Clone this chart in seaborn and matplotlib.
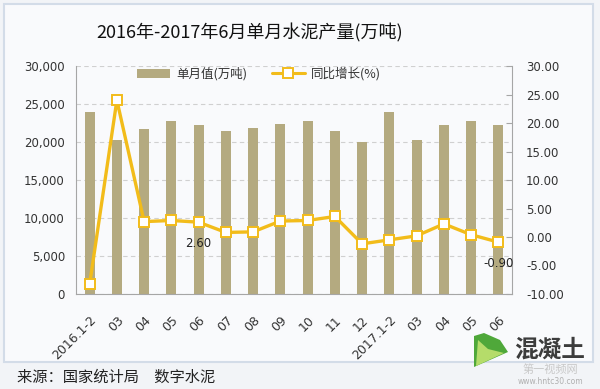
import numpy as np
import pandas as pd
import matplotlib
matplotlib.use("Agg")
import matplotlib.pyplot as plt
import seaborn as sns
from matplotlib.patches import Rectangle, Polygon
from matplotlib.lines import Line2D
from matplotlib.ticker import FuncFormatter, MultipleLocator

# ---- data ----
categories = ["2016.1-2", "03", "04", "05", "06", "07", "08", "09", "10", "11", "12",
              "2017.1-2", "03", "04", "05", "06"]
monthly_output = [24000, 20300, 21700, 22700, 22300, 21400, 21800, 22400, 22800, 21400,
                  20000, 24000, 20200, 22200, 22800, 22200]
yoy_growth = [-8.3, 24.0, 2.7, 2.9, 2.6, 0.8, 0.9, 2.8, 2.9, 3.6,
              -1.2, -0.5, 0.2, 2.3, 0.4, -0.9]
labelled_points = {4: "2.60", 15: "-0.90"}

title = "2016年-2017年6月单月水泥产量(万吨)"
bar_label = "单月值(万吨)"
line_label = "同比增长(%)"
source = "来源：国家统计局　数字水泥"

BAR_C = "#B4AA80"
LINE_C = "#F2BC1A"

df = pd.DataFrame({"pos": np.arange(len(categories)),
                   "output": monthly_output,
                   "growth": yoy_growth})

sns.set_style("white")
plt.rcParams["font.family"] = ["Noto Sans CJK SC", "DejaVu Sans"]
plt.rcParams["axes.grid"] = False

fig = plt.figure(figsize=(6.0, 3.89), dpi=100)
fig.patch.set_facecolor("#F2F4F7")

# outer frame
frame = Rectangle((4 / 600, 1 - 362 / 389), 589 / 600, 358 / 389,
                  transform=fig.transFigure, facecolor="#F9FAFC",
                  edgecolor="#D3DCE8", linewidth=1.5, zorder=-5)
fig.patches.append(frame)

ax = fig.add_axes([76 / 600, 1 - 294 / 389, 436 / 600, 228 / 389])
ax.set_facecolor("none")
ax.set_zorder(1)

sns.barplot(data=df, x="pos", y="output", color=BAR_C, width=0.37,
            saturation=1, ax=ax, zorder=2, edgecolor="none", linewidth=0)

ax.set_ylim(0, 30000)
ax.yaxis.set_major_locator(MultipleLocator(5000))
ax.yaxis.set_major_formatter(FuncFormatter(lambda v, p: f"{int(v):,}"))
ax.set_xlim(-0.5, len(categories) - 0.5)
ax.set_xlabel("")
ax.set_ylabel("")

ax.set_xticks(np.arange(len(categories)))
ax.set_xticklabels(categories, rotation=45, ha="right", rotation_mode="anchor",
                   fontsize=9, color="#333333", family="DejaVu Sans")
ax.set_xticks(np.arange(len(categories) + 1) - 0.5, minor=True)
ax.tick_params(axis="x", which="major", length=0, pad=14)
ax.tick_params(axis="x", which="minor", length=4, color="#A6A6A6", width=0.8,
               direction="out")
ax.tick_params(axis="y", length=0, labelsize=8.5, labelcolor="#333333", pad=8)
for lab in ax.get_yticklabels():
    lab.set_family("DejaVu Sans")

ax.xaxis.grid(False, which="both")
ax.yaxis.grid(True, which="major", color="#D0D0D0", linestyle=(0, (4, 3)),
              linewidth=0.8)
ax.set_axisbelow(True)

for s in ["top", "right"]:
    ax.spines[s].set_visible(False)
for s in ["left", "bottom"]:
    ax.spines[s].set_color("#A6A6A6")
    ax.spines[s].set_linewidth(0.8)

ax2 = ax.twinx()
ax2.set_zorder(2)
ax2.set_facecolor("none")
sns.lineplot(data=df, x="pos", y="growth", color=LINE_C, linewidth=2.4,
             marker="s", markersize=7, markerfacecolor="white",
             markeredgecolor=LINE_C, markeredgewidth=1.4, ax=ax2, zorder=5)
ax2.set_ylim(-10, 30)
ax2.yaxis.set_major_locator(MultipleLocator(5))
ax2.yaxis.set_major_formatter(FuncFormatter(lambda v, p: f"{v:.2f}"))
ax2.set_ylabel("")
ax2.set_xlabel("")
ax2.grid(False, which="both")
ax2.tick_params(axis="y", direction="in", length=4, color="#A6A6A6",
                labelsize=8.5, labelcolor="#333333", pad=10)
for lab in ax2.get_yticklabels():
    lab.set_family("DejaVu Sans")
for s in ["top", "left", "bottom"]:
    ax2.spines[s].set_visible(False)
ax2.spines["right"].set_color("#A6A6A6")
ax2.spines["right"].set_linewidth(0.8)
ax2.set_xlim(-0.5, len(categories) - 0.5)

for i, txt in labelled_points.items():
    ax2.annotate(txt, (df["pos"][i], df["growth"][i]), xytext=(0, -21),
                 textcoords="offset pixels", ha="center", va="center",
                 fontsize=8.5, color="#222222", family="DejaVu Sans")

handles = [Rectangle((0, 0), 1, 1, facecolor=BAR_C, edgecolor="none"),
           Line2D([0], [0], color=LINE_C, linewidth=2.2, marker="s", markersize=7,
                  markerfacecolor="white", markeredgecolor=LINE_C,
                  markeredgewidth=1.4)]
ax2.legend(handles, [bar_label, line_label], loc="center",
           bbox_to_anchor=(0.42, 0.965), ncol=2, frameon=False, fontsize=9,
           handlelength=2.6, handleheight=0.8, columnspacing=2.0,
           handletextpad=0.5, labelcolor="#333333")

fig.text(250 / 600, 1 - 33 / 389, title, ha="center", va="center",
         fontsize=13, color="#111111")
fig.text(17 / 600, 1 - 377 / 389, source, ha="left", va="center",
         fontsize=11, color="#222222")

# logo (decorative)
fig.patches.append(Polygon([(474 / 600, 1 - 367 / 389), (508 / 600, 1 - 352 / 389),
                            (500 / 600, 1 - 340 / 389), (484 / 600, 1 - 333 / 389),
                            (474 / 600, 1 - 336 / 389)],
                           closed=True, transform=fig.transFigure,
                           facecolor="#4FA83A", edgecolor="none", zorder=3))
fig.patches.append(Polygon([(476 / 600, 1 - 366 / 389), (504 / 600, 1 - 353 / 389),
                            (488 / 600, 1 - 349 / 389), (478 / 600, 1 - 340 / 389)],
                           closed=True, transform=fig.transFigure,
                           facecolor="#B5DC6A", edgecolor="none", zorder=3))
fig.text(550 / 600, 1 - 350 / 389, "混凝土", ha="center", va="center",
         fontsize=17, fontweight="bold", color="#3C3C3C", zorder=4)
fig.text(550 / 600, 1 - 370 / 389, "第一视频网", ha="center", va="center",
         fontsize=8, color="#C8C8C8", zorder=4)
fig.text(550 / 600, 1 - 381 / 389, "www.hntc30.com", ha="center", va="center",
         fontsize=5.5, color="#B0B0B0", family="DejaVu Sans", zorder=4)

fig.savefig("out.png", dpi=100, facecolor=fig.get_facecolor())
